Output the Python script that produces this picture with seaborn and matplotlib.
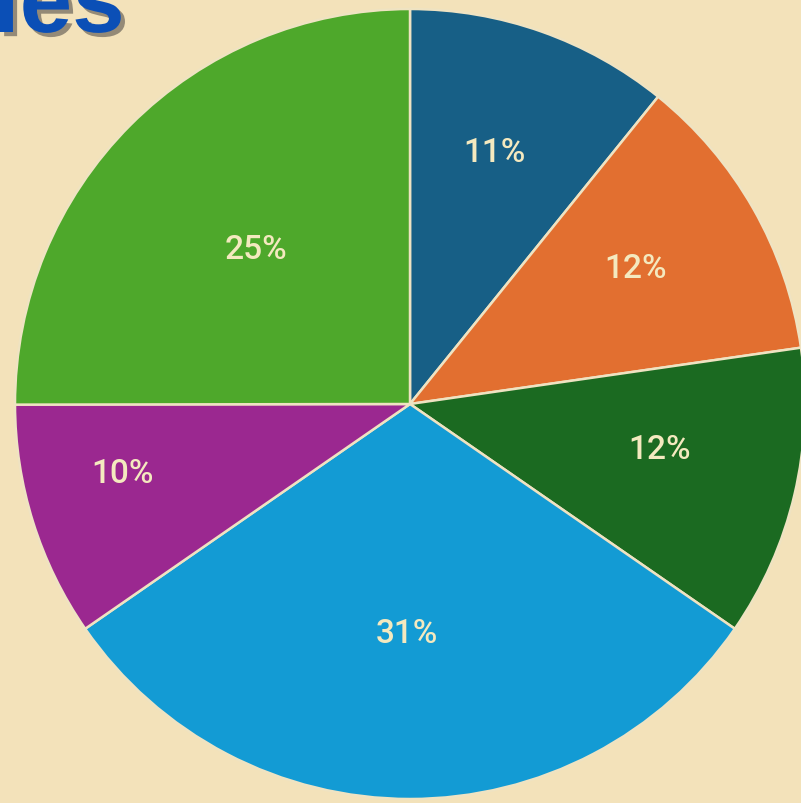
import matplotlib
matplotlib.use("Agg")
import matplotlib.pyplot as plt
import seaborn as sns
import matplotlib.patheffects as pe
import numpy as np

categories = ["A", "B", "C", "D", "E", "F"]
shares = [10.8, 11.9, 11.9, 30.7, 9.6, 25.0]
colors = ["#175f86", "#e26f30", "#1b6a21", "#139bd4", "#9b2890", "#4ea82b"]
label_radius = [0.681, 0.671, 0.641, 0.570, 0.746, 0.56]
label_angle_shift = [1.1, 2.0, 3.8, -0.8, -4.5, -0.9]
title_text = "Sales"

sns.set_theme(style="white")
plt.rcParams['font.family'] = ['Roboto', 'DejaVu Sans']

bg = "#f3e2ba"
fig = plt.figure(figsize=(8.01, 8.04), dpi=100, facecolor=bg)
ax = fig.add_axes([0, 0, 1, 1])
ax.set_facecolor(bg)

wedges, texts, autotexts = ax.pie(
    shares, colors=colors, startangle=90, counterclock=False,
    autopct='%.0f%%', pctdistance=0.63, radius=1.0,
    wedgeprops=dict(edgecolor="#efe3c2", linewidth=1.8),
    textprops=dict(color="#f4e9bf", fontsize=24, fontweight='medium'),
)
# radial placement of the percentage labels
for w, t, r, s in zip(wedges, autotexts, label_radius, label_angle_shift):
    ang = np.deg2rad((w.theta1 + w.theta2) / 2 + s)
    t.set_position((r * np.cos(ang), r * np.sin(ang)))
    t.set_va('center_baseline')

ax.set_xlim(-410 / 395, 391 / 395)
ax.set_ylim(-399 / 395, 405 / 395)
ax.set_aspect('auto')
ax.axis('off')

fig.text(125 / 801, 1 - 33 / 804, title_text, ha='right', va='baseline',
         fontsize=68, fontweight='bold', color="#0b4fb6",
         family=['Liberation Sans', 'DejaVu Sans'],
         path_effects=[pe.withSimplePatchShadow(offset=(3, -3),
                                                shadow_rgbFace="#8a8170",
                                                alpha=0.9)])

fig.savefig("out.png", dpi=100, facecolor=bg)
